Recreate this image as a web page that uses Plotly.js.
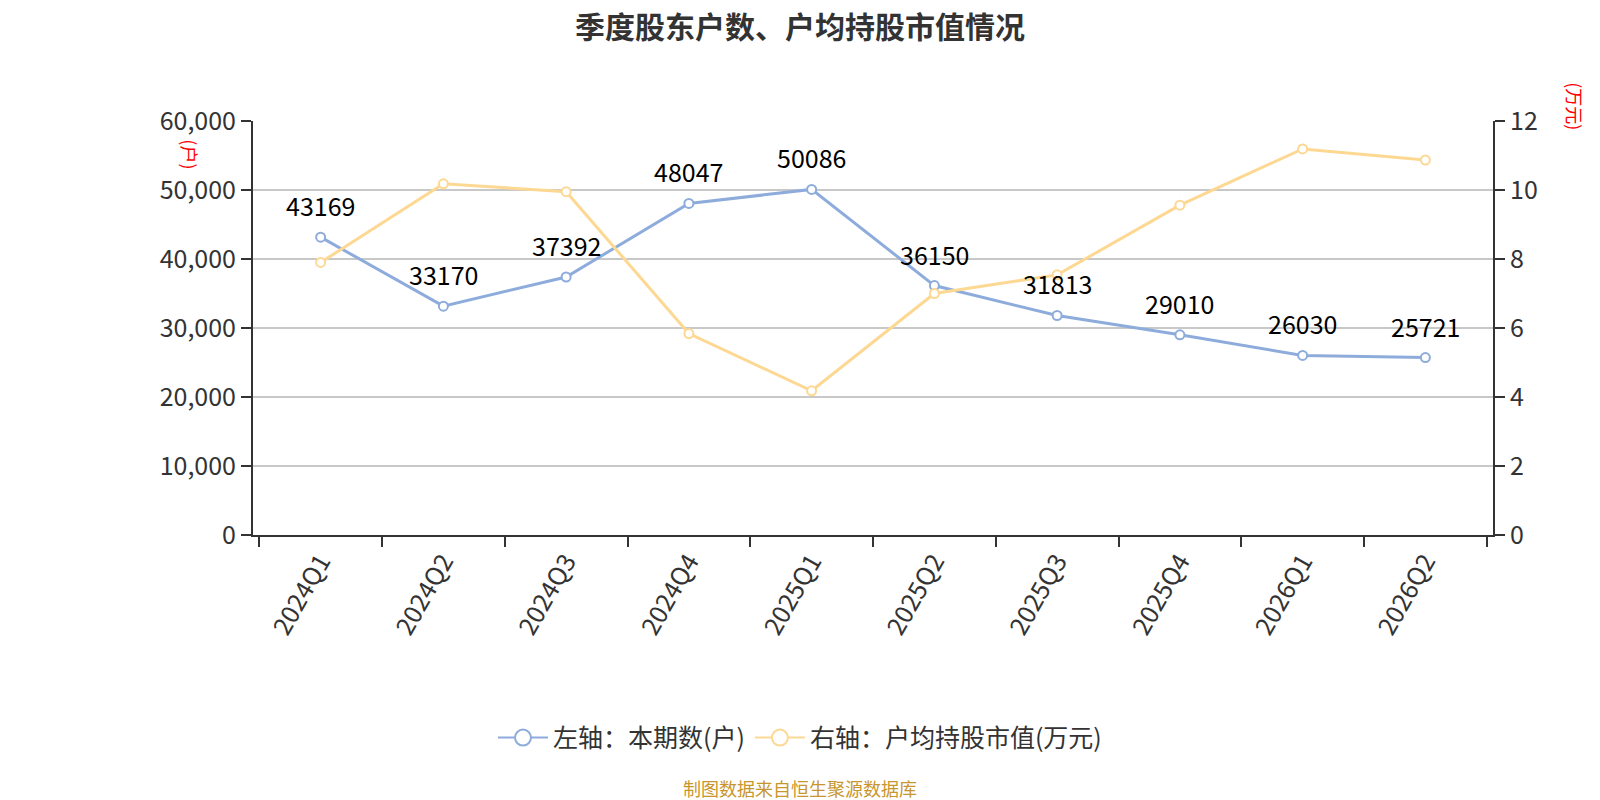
<!DOCTYPE html>
<html>
<head>
<meta charset="utf-8">
<script src="https://cdn.plot.ly/plotly-3.0.1.min.js"></script>
<style>
  html, body { margin: 0; padding: 0; background: #fff; }
  #chart { width: 1600px; height: 800px; }
</style>
</head>
<body>
<div id="chart"></div>
<script>
const quarters = ['2024Q1', '2024Q2', '2024Q3', '2024Q4', '2025Q1', '2025Q2', '2025Q3', '2025Q4', '2026Q1', '2026Q2']
const holders = [43169, 33170, 37392, 48047, 50086, 36150, 31813, 29010, 26030, 25721]
const avgValue = [7.9, 10.18, 9.95, 5.84, 4.18, 7.0, 7.54, 9.56, 11.19, 10.87]

const leftTicks = [0, 10000, 20000, 30000, 40000, 50000, 60000]
const rightTicks = [0, 2, 4, 6, 8, 10, 12]

const blue = '#8eacdb'
const yellow = '#fdd893'
const font = '"Noto Sans CJK SC", "Noto Sans", sans-serif'
// paper x of the page centre (plot area is offset by the margins)
const pageMid = (800 - 253) / 1240

const traces = [{
  x: quarters,
  y: holders,
  name: '左轴：本期数(户)',
  type: 'scatter',
  mode: 'lines+markers',
  line: { color: blue, width: 3 },
  marker: { size: 9, color: '#fff', line: { color: blue, width: 2 } },
  yaxis: 'y',
  showlegend: false,
  cliponaxis: false
}, {
  x: quarters,
  y: avgValue,
  name: '右轴：户均持股市值(万元)',
  type: 'scatter',
  mode: 'lines+markers',
  line: { color: yellow, width: 3 },
  marker: { size: 9, color: '#fff', line: { color: yellow, width: 2 } },
  yaxis: 'y2',
  showlegend: false,
  cliponaxis: false
}]

// legend entries with the large open circle symbol
const legendItems = [['左轴：本期数(户)', blue], ['右轴：户均持股市值(万元)', yellow]]
legendItems.forEach(([name, color]) => {
  traces.push({
    x: [null],
    y: [null],
    name: name,
    type: 'scatter',
    mode: 'lines+markers',
    line: { color: color, width: 2 },
    marker: { size: 20, color: '#fff', line: { color: color, width: 2 } },
    showlegend: true
  })
})

// value labels above the holder points
const labels = quarters.map((q, i) => ({
  x: q,
  y: holders[i],
  xref: 'x',
  yref: 'y',
  text: String(holders[i]),
  showarrow: false,
  yshift: 32,
  yanchor: 'middle',
  font: { family: font, size: 25, color: '#000' }
}))

const layout = {
  width: 1600,
  height: 800,
  margin: { l: 253, r: 107, t: 121, b: 265 },
  paper_bgcolor: '#fff',
  plot_bgcolor: '#fff',
  font: { family: font, color: '#333' },
  title: {
    text: '<b>季度股东户数、户均持股市值情况</b>',
    x: 0.5,
    xanchor: 'center',
    y: 0.966,
    yanchor: 'middle',
    font: { family: font, size: 30, color: '#333' }
  },
  showlegend: true,
  legend: {
    orientation: 'h',
    x: pageMid,
    xanchor: 'center',
    y: -0.49,
    yanchor: 'middle',
    font: { family: font, size: 25, color: '#333' },
    itemsizing: 'trace',
    itemwidth: 50
  },
  xaxis: {
    type: 'category',
    tickson: 'boundaries',
    ticks: 'outside',
    ticklen: 10,
    tickwidth: 2,
    tickcolor: '#333',
    showline: true,
    linecolor: '#333',
    linewidth: 2,
    showgrid: false,
    tickangle: -60,
    tickfont: { family: font, size: 25, color: '#333' }
  },
  yaxis: {
    range: [0, 60000],
    tickvals: leftTicks,
    ticktext: leftTicks.map(v => v.toLocaleString('en-US')),
    ticks: 'outside',
    ticklen: 10,
    tickwidth: 2,
    tickcolor: '#333',
    showline: true,
    linecolor: '#333',
    linewidth: 2,
    showgrid: true,
    gridcolor: '#c8c8c8',
    gridwidth: 1.5,
    zeroline: false,
    tickfont: { family: font, size: 25, color: '#333' }
  },
  yaxis2: {
    overlaying: 'y',
    side: 'right',
    range: [0, 12],
    tickvals: rightTicks,
    ticks: 'outside',
    ticklen: 10,
    tickwidth: 2,
    tickcolor: '#333',
    showline: true,
    linecolor: '#333',
    linewidth: 2,
    showgrid: false,
    zeroline: false,
    tickfont: { family: font, size: 25, color: '#333' }
  },
  annotations: labels.concat([{
    text: '(户)',
    xref: 'paper',
    yref: 'paper',
    x: -0.051,
    xanchor: 'center',
    y: 0.92,
    yanchor: 'middle',
    showarrow: false,
    textangle: 90,
    font: { family: font, size: 18, color: '#ff0000' }
  }, {
    text: '(万元)',
    xref: 'paper',
    yref: 'paper',
    x: 1.066,
    xanchor: 'center',
    y: 1.036,
    yanchor: 'middle',
    showarrow: false,
    textangle: 90,
    font: { family: font, size: 18, color: '#ff0000' }
  }, {
    text: '制图数据来自恒生聚源数据库',
    xref: 'paper',
    yref: 'paper',
    x: pageMid,
    xanchor: 'center',
    y: -0.61,
    yanchor: 'middle',
    showarrow: false,
    font: { family: font, size: 18, color: '#c8962e' }
  }])
}

Plotly.newPlot('chart', traces, layout, { displayModeBar: false, staticPlot: true })
</script>
</body>
</html>
